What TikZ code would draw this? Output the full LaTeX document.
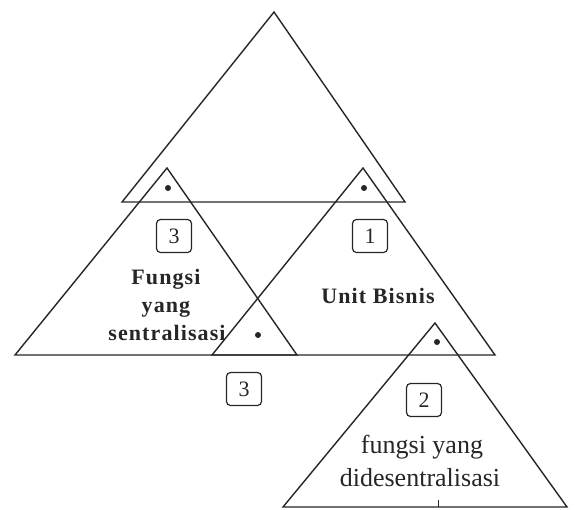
\documentclass[tikz,border=0pt]{standalone}
\usepackage{fontspec}
\setmainfont{Liberation Serif}
\begin{document}
\begin{tikzpicture}[x=1pt,y=-1pt,
  tri/.style={draw=black!85, line width=1.4pt, line join=miter},
  numbox/.style={draw=black!85, line width=1.2pt, rounded corners=4pt, minimum width=35pt, minimum height=33pt, inner sep=0pt, text=black!85, font=\fontsize{22}{22}\selectfont},
  dotmark/.style={fill=black!85, circle, inner sep=0pt, minimum size=6pt},
  boldlbl/.style={font=\fontsize{22}{22}\selectfont\bfseries\addfontfeatures{LetterSpace=5}, anchor=base, inner sep=0pt, text=black!85},
  reglbl/.style={font=\fontsize{26}{26}\selectfont, anchor=base, inner sep=0pt, text=black!85}]
\useasboundingbox (0,0) rectangle (575,509);
% triangle vertices
\coordinate (t0a) at (274,12);  \coordinate (t0l) at (122,202); \coordinate (t0r) at (405,202);
\coordinate (t3a) at (167,168); \coordinate (t3l) at (15,355);  \coordinate (t3r) at (297,355);
\coordinate (t1a) at (363,168); \coordinate (t1l) at (212,355); \coordinate (t1r) at (495,355);
\coordinate (t2a) at (435,323); \coordinate (t2l) at (283,507); \coordinate (t2r) at (567,507);
\draw[tri] (t0a) -- (t0l) -- (t0r) -- cycle;
\draw[tri] (t3a) -- (t3l) -- (t3r) -- cycle;
\draw[tri] (t1a) -- (t1l) -- (t1r) -- cycle;
\draw[tri] (t2a) -- (t2l) -- (t2r) -- cycle;
% small tick at bottom
\coordinate (tkb) at (438,507); \coordinate (tkt) at (438,500);
\draw[black!85, line width=1pt] (tkb) -- (tkt);
% dots
\node[dotmark] (d3) at (168,188) {};
\node[dotmark] (d1) at (364,188) {};
\node[dotmark] (dm) at (258,335) {};
\node[dotmark] (d2) at (437,342) {};
% number boxes
\node[numbox] (b3) at (174,236) {3};
\node[numbox] (b1) at (370,236) {1};
\node[numbox] (bm) at (244,389) {3};
\node[numbox] (b2) at (424,400) {2};
% labels
\node[boldlbl] (l3a) at (166,284) {Fungsi};
\node[boldlbl] (l3b) at (166,312) {yang};
\node[boldlbl] (l3c) at (167,340) {sentralisasi};
\node[boldlbl] (l1) at (378,303) {Unit Bisnis};
\node[reglbl] (l2a) at (422,453) {fungsi yang};
\node[reglbl] (l2b) at (420,486) {didesentralisasi};
\end{tikzpicture}
\end{document}
